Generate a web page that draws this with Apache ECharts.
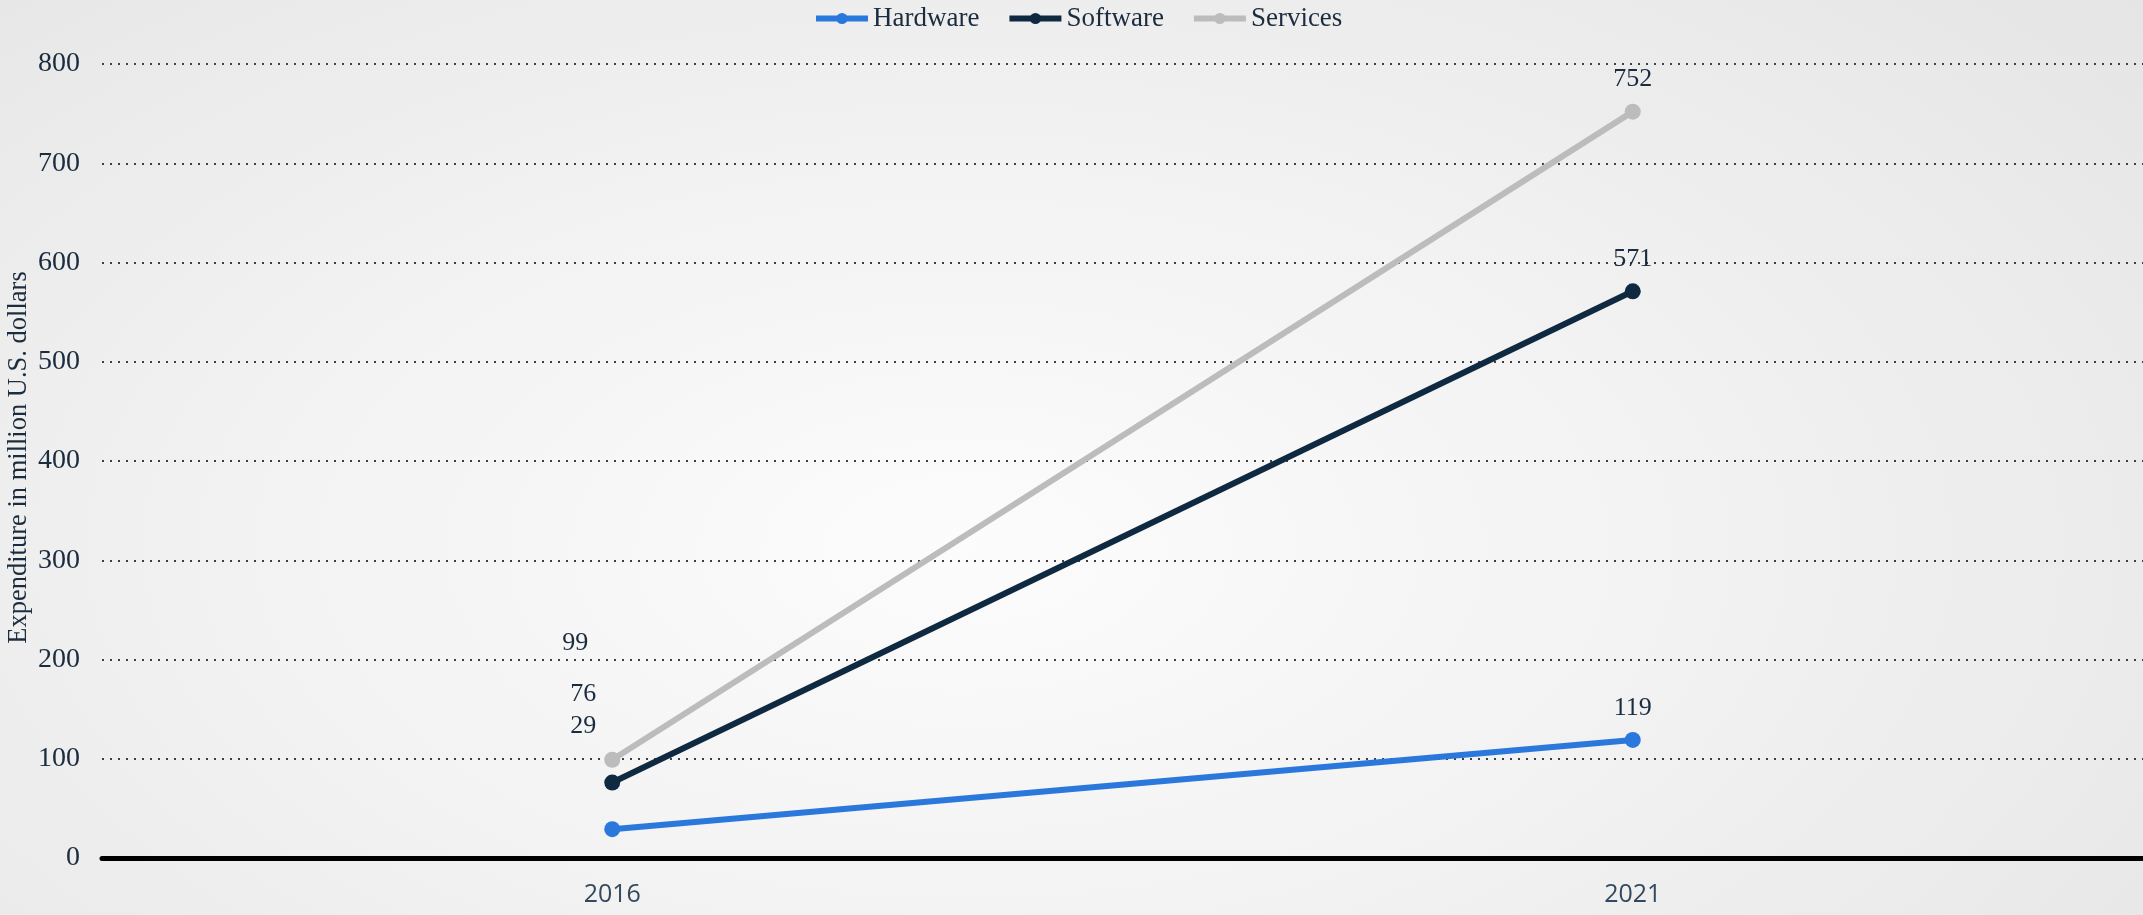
<!DOCTYPE html>
<html>
<head>
<meta charset="utf-8">
<title>Expenditure in million U.S. dollars</title>
<script src="https://cdn.jsdelivr.net/npm/echarts@6/dist/echarts.min.js"></script>
<style>
  html, body { margin: 0; padding: 0; width: 100%; height: 100%; overflow: hidden; }
  body { background: radial-gradient(ellipse 75% 95% at 45% 60%, #fcfcfc 0%, #f2f2f2 45%, #e4e4e4 100%); }
  #chart { width: 2143px; height: 915px; }
</style>
</head>
<body>
<div id="chart"></div>
<script>
// Years on the category axis
const years = ['2016', '2021'];

// Expenditure per segment, million U.S. dollars
const hardware = [29, 119];
const software = [76, 571];
const services = [99, 752];

// Value axis range and step
const yMin = 0;
const yMax = 800;
const yStep = 100;

const yTitle = 'Expenditure in million U.S. dollars';

const serif = '"Liberation Serif", "Times New Roman", serif';
const navy = '#1b2c3e';

// Labels at the first year sit stacked above the crowded points
const firstYearOffsets = {
  Hardware: [-29, -71],
  Software: [-29, -56],
  Services: [-37, -85]
};

function makeSeries(name, values, color) {
  return {
    name: name,
    type: 'line',
    data: values.map((v, i) => {
      const item = { value: v };
      if (i === 0) item.label = { offset: firstYearOffsets[name] };
      return item;
    }),
    symbol: 'circle',
    symbolSize: 16,
    lineStyle: { width: 6, color: color },
    itemStyle: { color: color },
    label: {
      show: true,
      position: 'top',
      distance: 11,
      fontFamily: serif,
      fontSize: 26,
      color: navy
    },
    emphasis: { disabled: true },
    animation: false
  };
}

const chart = echarts.init(document.getElementById('chart'), null, { renderer: 'canvas' });

chart.setOption({
  backgroundColor: 'transparent',
  animation: false,
  legend: {
    top: 0,
    left: 808,
    itemWidth: 52,
    itemHeight: 14,
    itemGap: 27,
    lineStyle: { width: 6 },
    textStyle: { fontFamily: serif, fontSize: 27, color: navy },
    data: ['Hardware', 'Software', 'Services']
  },
  grid: {
    left: 102, right: 0, top: 64, bottom: 57,
    containLabel: false,
    outerBoundsMode: 'none'
  },
  // Vertical value-axis title, placed beside the tick labels
  graphic: [{
    type: 'text',
    left: 6,
    top: 'middle',
    rotation: Math.PI / 2,
    style: {
      text: yTitle,
      fontFamily: serif,
      fontSize: 26.5,
      fill: navy
    }
  }],
  xAxis: {
    type: 'category',
    data: years,
    boundaryGap: true,
    axisLine: { show: true, lineStyle: { color: '#000000', width: 5 } },
    axisTick: { show: false },
    axisLabel: {
      margin: 24,
      fontFamily: '"Open Sans", "Noto Sans", sans-serif',
      fontSize: 25,
      color: '#34495e'
    },
    splitLine: { show: false }
  },
  yAxis: {
    type: 'value',
    min: yMin,
    max: yMax,
    interval: yStep,
    axisLine: { show: false },
    axisTick: { show: false },
    axisLabel: { margin: 22, fontFamily: serif, fontSize: 28, color: navy },
    splitLine: { show: true, lineStyle: { type: [2, 6], width: 2, color: '#3f3f3f' } }
  },
  series: [
    makeSeries('Hardware', hardware, '#2a78dc'),
    makeSeries('Software', software, '#0f2940'),
    makeSeries('Services', services, '#bcbcbc')
  ]
});
</script>
</body>
</html>
